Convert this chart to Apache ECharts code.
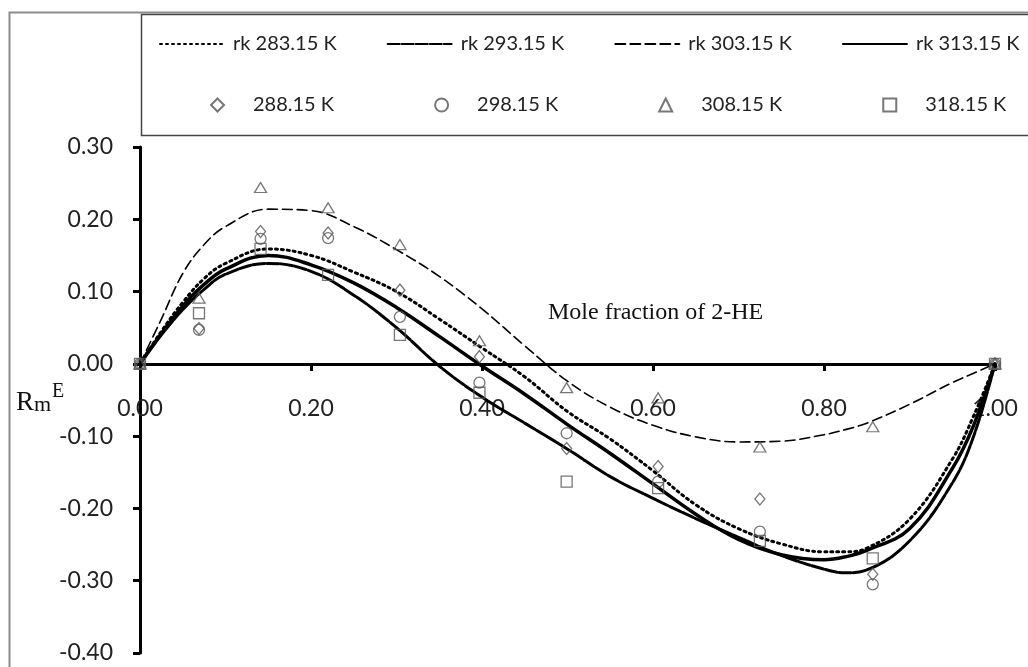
<!DOCTYPE html>
<html>
<head>
<meta charset="utf-8">
<script src="https://cdn.jsdelivr.net/npm/echarts@6/dist/echarts.min.js"></script>
<style>
html, body { margin: 0; padding: 0; background: #fff; }
#main { width: 1028px; height: 667px; }
</style>
</head>
<body>
<div id="main"></div>
<script>
// mole fraction grid for the Redlich-Kister curves
var fitX = [0, 0.025, 0.05, 0.075, 0.1, 0.15, 0.2, 0.25, 0.3, 0.35, 0.4, 0.45, 0.5, 0.55, 0.6, 0.65, 0.7, 0.75, 0.8, 0.825, 0.85, 0.9, 0.95, 0.975, 1];
var rk283 = [0, 0.045, 0.085, 0.118, 0.139, 0.159, 0.150, 0.127, 0.100, 0.062, 0.022, -0.018, -0.066, -0.104, -0.148, -0.195, -0.228, -0.249, -0.260, -0.260, -0.255, -0.215, -0.132, -0.072, 0];
var rk293 = [0, 0.040, 0.075, 0.103, 0.124, 0.139, 0.128, 0.095, 0.050, -0.003, -0.046, -0.082, -0.118, -0.156, -0.186, -0.214, -0.240, -0.265, -0.284, -0.289, -0.285, -0.245, -0.165, -0.100, 0];
var rk303 = [0, 0.062, 0.125, 0.165, 0.190, 0.214, 0.212, 0.190, 0.158, 0.121, 0.076, 0.025, -0.024, -0.060, -0.085, -0.101, -0.108, -0.107, -0.098, -0.091, -0.082, -0.056, -0.026, -0.013, 0];
var rk313 = [0, 0.042, 0.080, 0.110, 0.131, 0.150, 0.137, 0.112, 0.078, 0.038, -0.003, -0.042, -0.084, -0.124, -0.166, -0.208, -0.243, -0.264, -0.271, -0.267, -0.258, -0.228, -0.145, -0.085, 0];

// experimental points
var expX = [0, 0.069, 0.141, 0.220, 0.304, 0.397, 0.499, 0.606, 0.725, 0.857, 1.0];
var exp288 = [0, 0.049, 0.183, 0.181, 0.102, 0.010, -0.117, -0.142, -0.187, -0.291, 0];
var exp298 = [0, 0.047, 0.173, 0.174, 0.065, -0.026, -0.096, -0.163, -0.232, -0.305, 0];
var exp308 = [0, 0.091, 0.244, 0.216, 0.165, 0.032, -0.033, -0.047, -0.115, -0.087, 0];
var exp318 = [0, 0.070, 0.159, 0.123, 0.040, -0.040, -0.163, -0.172, -0.245, -0.269, 0];

var rkNames = ['rk 283.15 K', 'rk 293.15 K', 'rk 303.15 K', 'rk 313.15 K'];
var expNames = ['288.15 K', '298.15 K', '308.15 K', '318.15 K'];

function pairs(xs, ys) {
	return xs.map(function(x, i) { return [x, ys[i]]; });
}

function rkLine(name, ys, width, type) {
	return {
		name: name,
		type: 'line',
		data: pairs(fitX, ys),
		smooth: 0.4,
		symbol: 'none',
		lineStyle: { color: '#000', width: width, type: type, cap: 'round' },
		itemStyle: { color: '#000' },
		z: 2
	};
}

function expPoints(name, ys, symbol, size) {
	return {
		name: name,
		type: 'scatter',
		data: pairs(expX, ys),
		symbol: symbol,
		symbolSize: size,
		itemStyle: { color: 'rgba(255,255,255,0)', borderColor: '#555', borderWidth: 1.3 },
		z: 3
	};
}

var myChart = echarts.init(document.getElementById('main'));

var tickFont = { fontFamily: 'Lato', fontSize: 23, color: '#222' };
var legendFont = { fontFamily: 'Lato', fontSize: 20, color: '#222' };

var option = {
	animation: false,
	backgroundColor: '#fff',
	grid: { left: 140, right: 33, top: 147, bottom: 14, outerBoundsMode: 'none' },
	legend: [{
		data: rkNames,
		left: 154, top: 29, width: 1100,
		itemWidth: 64, itemHeight: 14, itemGap: 50,
		itemStyle: { opacity: 0 },
		textStyle: Object.assign({ padding: [0, 0, 0, 4] }, legendFont)
	}, {
		data: expNames,
		left: 205, top: 90, width: 1100,
		itemWidth: 13, itemHeight: 13, itemGap: 100,
		textStyle: Object.assign({ padding: [0, 0, 0, 24] }, legendFont)
	}],
	xAxis: {
		type: 'value', min: 0, max: 1, interval: 0.2,
		position: 'bottom', offset: -289,
		axisLine: { onZero: false, lineStyle: { color: '#000', width: 3 } },
		axisTick: { show: true, inside: false, length: 7, lineStyle: { color: '#000', width: 3 } },
		axisLabel: Object.assign({ margin: 33, formatter: function(v) { return v.toFixed(2); } }, tickFont),
		splitLine: { show: false }
	},
	yAxis: {
		type: 'value', min: -0.4, max: 0.3, interval: 0.1,
		axisLine: { show: true, onZero: false, lineStyle: { color: '#000', width: 3 } },
		axisTick: { show: true, length: 7, lineStyle: { color: '#000', width: 3 } },
		axisLabel: Object.assign({ margin: 27, formatter: function(v) { return v.toFixed(2); } }, tickFont),
		splitLine: { show: false }
	},
	graphic: [{
		type: 'rect', left: 7, top: 10, z: -1,
		shape: { width: 1040, height: 680 },
		style: { fill: 'none', stroke: '#8c8c8c', lineWidth: 2 }
	}, {
		type: 'rect', left: 139, top: 12, z: -1,
		shape: { width: 900, height: 121 },
		style: { fill: 'none', stroke: '#444', lineWidth: 1.5 }
	}, {
		type: 'text', left: 548, top: 301,
		style: { text: 'Mole fraction of 2-HE', font: '24px "Liberation Serif"', fill: '#111' }
	}, {
		type: 'text', left: 16, top: 382,
		style: {
			text: '{r|R}{m|m}{e|E}',
			rich: {
				r: { font: '27px "Liberation Serif"', fill: '#111', verticalAlign: 'bottom' },
				m: { font: '22px "Liberation Serif"', fill: '#111', padding: [12, 0, 0, 0], verticalAlign: 'bottom' },
				e: { font: '20px "Liberation Serif"', fill: '#111', padding: [0, 0, 14, 1], verticalAlign: 'bottom' }
			}
		}
	}],
	series: [
		rkLine(rkNames[0], rk283, 3, [2, 4]),
		rkLine(rkNames[1], rk293, 3, [12, 2]),
		rkLine(rkNames[2], rk303, 1.6, [10, 5]),
		rkLine(rkNames[3], rk313, 3.5, 'solid'),
		expPoints(expNames[0], exp288, 'diamond', [10, 12]),
		expPoints(expNames[1], exp298, 'circle', 11),
		expPoints(expNames[2], exp308, 'triangle', [12, 10]),
		expPoints(expNames[3], exp318, 'rect', 11)
	]
};

myChart.setOption(option);
</script>
</body>
</html>
